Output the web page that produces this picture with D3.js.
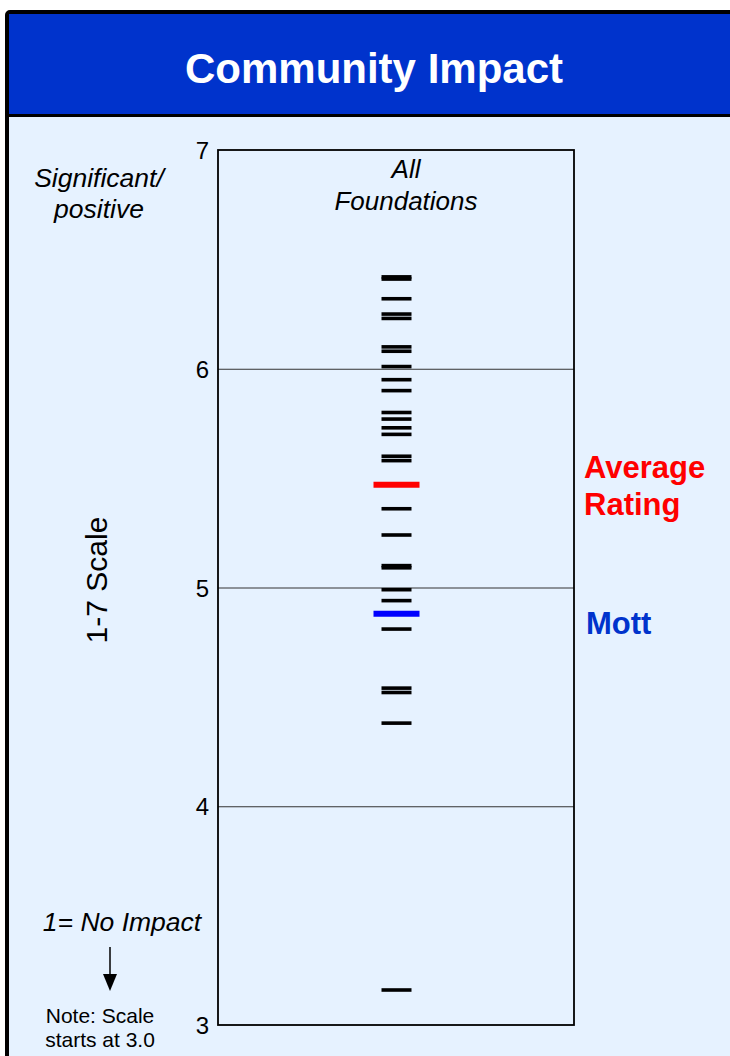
<!DOCTYPE html>
<html><head><meta charset="utf-8">
<script src="https://cdn.jsdelivr.net/npm/d3@7"></script>
<style>html,body{margin:0;padding:0;background:#fff;}svg{display:block;font-family:Arial,"Liberation Sans",sans-serif;}</style>
</head><body>
<script>
const title = "Community Impact";
const category = ["All Foundations"];
const foundationScores = [6.41, 6.42, 6.32, 6.25, 6.23, 6.10, 6.08, 6.01, 5.95, 5.90, 5.80, 5.77, 5.73, 5.70, 5.60, 5.58, 5.36, 5.24, 5.10, 5.09, 4.99, 4.94, 4.81, 4.54, 4.52, 4.38, 3.16];
const averageRating = [5.47];
const mottRating = [4.88];
const tickValues = [3, 4, 5, 6, 7];
const gridValues = [4, 5, 6];

const W = 730, H = 1056;
const svg = d3.select("body").append("svg").attr("width", W).attr("height", H);

// frame
svg.append("rect").attr("x", 7).attr("y", 12).attr("width", W + 10).attr("height", H + 10)
  .attr("fill", "#E6F2FF").attr("stroke", "#000").attr("stroke-width", 4).attr("rx", 3);
svg.append("rect").attr("x", 9).attr("y", 14).attr("width", W).attr("height", 100).attr("fill", "#0033CC");
svg.append("line").attr("x1", 9).attr("x2", W).attr("y1", 115.5).attr("y2", 115.5).attr("stroke", "#000").attr("stroke-width", 3);
svg.append("text").attr("x", 374).attr("y", 83).attr("text-anchor", "middle")
  .attr("fill", "#fff").attr("font-weight", "bold").attr("font-size", 42).text(title);

const plot = {left: 218, right: 574, top: 150, bottom: 1025};
const y = d3.scaleLinear().domain([3, 7]).range([plot.bottom, plot.top]);
const x = d3.scalePoint().domain(category).range([plot.left, 575]).padding(0.5);

// gridlines
svg.append("g").selectAll("line").data(gridValues).join("line")
  .attr("x1", plot.left).attr("x2", plot.right)
  .attr("y1", d => y(d) + 0.5).attr("y2", d => y(d) + 0.5)
  .attr("stroke", "#333").attr("stroke-width", 1);

// box
svg.append("rect").attr("x", plot.left).attr("y", plot.top)
  .attr("width", plot.right - plot.left).attr("height", plot.bottom - plot.top)
  .attr("fill", "none").attr("stroke", "#000").attr("stroke-width", 1.8);

// axis
const ax = svg.append("g").attr("transform", `translate(${plot.left},0)`)
  .call(d3.axisLeft(y).tickValues(tickValues).tickSize(0).tickPadding(9).tickFormat(d3.format("d")));
ax.select(".domain").remove();
ax.selectAll("text").attr("font-size", 24).attr("font-family", "Arial, 'Liberation Sans', sans-serif").attr("fill", "#000").attr("dy", "0.36em");

// foundation marks
const markX = x("All Foundations");
svg.append("g").selectAll("line").data(foundationScores).join("line")
  .attr("x1", markX - 15).attr("x2", markX + 15)
  .attr("y1", d => y(d)).attr("y2", d => y(d))
  .attr("stroke", "#000").attr("stroke-width", 3.6);
svg.append("g").selectAll("line").data(averageRating).join("line")
  .attr("x1", markX - 23).attr("x2", markX + 23)
  .attr("y1", d => y(d)).attr("y2", d => y(d))
  .attr("stroke", "#FF0000").attr("stroke-width", 6);
svg.append("g").selectAll("line").data(mottRating).join("line")
  .attr("x1", markX - 23).attr("x2", markX + 23)
  .attr("y1", d => y(d)).attr("y2", d => y(d))
  .attr("stroke", "#0000FF").attr("stroke-width", 6);

// category label
const cl = svg.append("text").attr("text-anchor", "middle").attr("font-style", "italic").attr("font-size", 26);
cl.append("tspan").attr("x", 406).attr("y", 178).text("All");
cl.append("tspan").attr("x", 406).attr("y", 210).text("Foundations");

// left labels
const sl = svg.append("text").attr("text-anchor", "middle").attr("font-style", "italic").attr("font-size", 26.5);
sl.append("tspan").attr("x", 99).attr("y", 187).text("Significant/");
sl.append("tspan").attr("x", 99).attr("y", 218).text("positive");

svg.append("text").attr("transform", "translate(107,580) rotate(-90)").attr("text-anchor", "middle")
  .attr("font-size", 30).text("1-7 Scale");

svg.append("text").attr("x", 122).attr("y", 931).attr("text-anchor", "middle").attr("font-style", "italic")
  .attr("font-size", 26.5).text("1= No Impact");

svg.append("line").attr("x1", 110).attr("x2", 110).attr("y1", 947).attr("y2", 976).attr("stroke", "#000").attr("stroke-width", 1.5);
svg.append("path").attr("d", "M103,974 L117,974 L110,991 Z").attr("fill", "#000");

const nt = svg.append("text").attr("text-anchor", "middle").attr("font-size", 21);
nt.append("tspan").attr("x", 100).attr("y", 1023).text("Note: Scale");
nt.append("tspan").attr("x", 100).attr("y", 1047).text("starts at 3.0");

// legend labels
const ar = svg.append("text").attr("fill", "#FF0000").attr("font-weight", "bold").attr("font-size", 31);
ar.append("tspan").attr("x", 584).attr("y", 478).text("Average");
ar.append("tspan").attr("x", 584).attr("y", 515).text("Rating");
svg.append("text").attr("x", 586).attr("y", 634).attr("fill", "#0033CC").attr("font-weight", "bold")
  .attr("font-size", 31).text("Mott");
</script>
</body></html>
